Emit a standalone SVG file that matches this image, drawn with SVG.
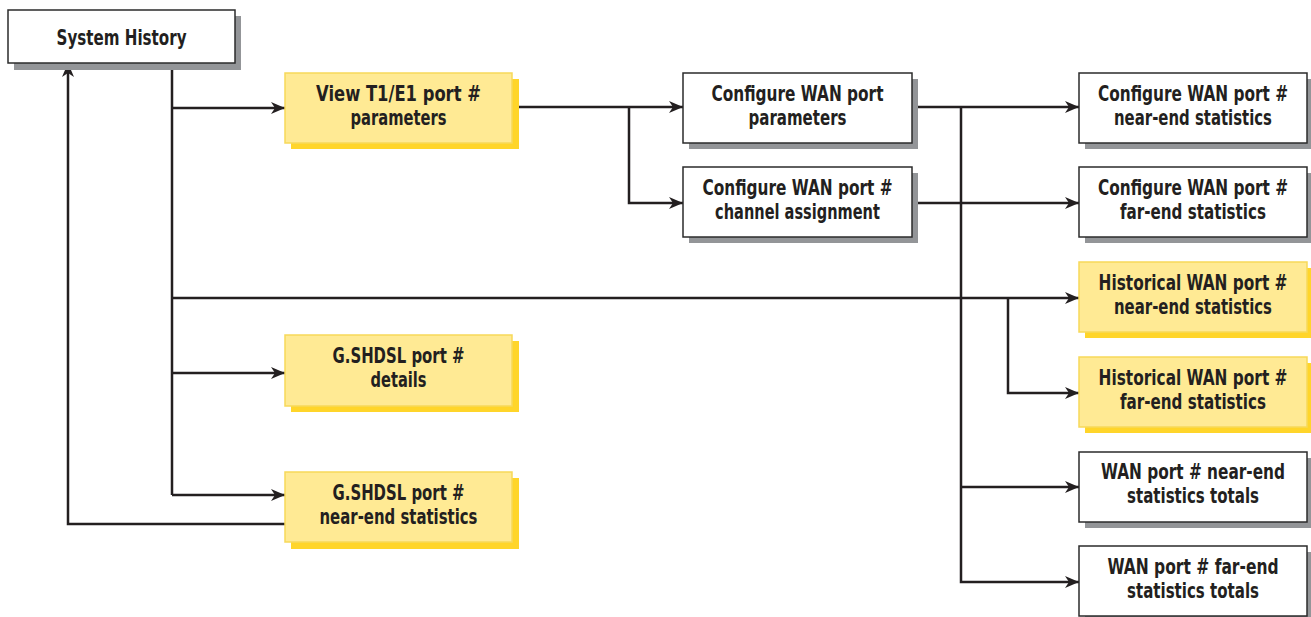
<svg xmlns="http://www.w3.org/2000/svg" width="1311" height="617" viewBox="0 0 1311 617">
<defs>
<marker id="ah" markerUnits="userSpaceOnUse" markerWidth="16" markerHeight="14" refX="15" refY="7" orient="auto" viewBox="0 0 16 14">
<path d="M15,7 L1,1 L5,7 L1,13 Z" fill="#231F20"/>
</marker>
<style>
.sh-g{fill:#939598}
.sh-y{fill:#FFD52A}
.bx-w{fill:#FFFFFF;stroke:#2B2B2B;stroke-width:1.5}
.bx-y{fill:#FFEA94;stroke:#F7D95A;stroke-width:1.5}
.t{font-family:"DejaVu Sans Condensed","DejaVu Sans",sans-serif;font-weight:bold;font-size:21.5px;fill:#231F20;text-anchor:middle}
.c{fill:none;stroke:#231F20;stroke-width:2.5}
.a{marker-end:url(#ah)}
</style>
</defs>
<rect width="1311" height="617" fill="#FFFFFF"/>

<g id="connectors">
<path class="c" d="M172,63 V495"/>
<path class="c a" d="M172,108 H285"/>
<path class="c a" d="M172,298 H1079"/>
<path class="c a" d="M172,373 H285"/>
<path class="c a" d="M172,495 H285"/>
<path class="c a" d="M285,524 H68 V63"/>
<path class="c a" d="M512,107 H683"/>
<path class="c a" d="M629,107 V203 H683"/>
<path class="c a" d="M912,107 H1079"/>
<path class="c a" d="M912,203 H1079"/>
<path class="c a" d="M961,107 V582 H1079"/>
<path class="c a" d="M961,487 H1079"/>
<path class="c a" d="M1008,298 V393 H1079"/>
</g>

<g id="system-history">
<rect class="sh-g" x="14" y="16" width="227" height="54"/>
<rect class="bx-w" x="8" y="10" width="227" height="53"/>
<text class="t" transform="translate(121.5,45) scale(0.8,1)" textLength="162.5" lengthAdjust="spacingAndGlyphs">System History</text>
</g>

<g id="view-t1e1">
<rect class="sh-y" x="291" y="79" width="228" height="70"/>
<rect class="bx-y" x="285" y="73" width="227" height="70"/>
<text class="t" transform="translate(398.5,101) scale(0.8,1)" textLength="206" lengthAdjust="spacingAndGlyphs">View T1/E1 port #</text>
<text class="t" transform="translate(398.5,125) scale(0.8,1)" textLength="120" lengthAdjust="spacingAndGlyphs">parameters</text>
</g>

<g id="gshdsl-details">
<rect class="sh-y" x="291" y="341" width="228" height="71"/>
<rect class="bx-y" x="285" y="335" width="227" height="71"/>
<text class="t" transform="translate(398.5,363) scale(0.8,1)" textLength="165" lengthAdjust="spacingAndGlyphs">G.SHDSL port #</text>
<text class="t" transform="translate(398.5,387) scale(0.8,1)" textLength="70" lengthAdjust="spacingAndGlyphs">details</text>
</g>

<g id="gshdsl-near-end">
<rect class="sh-y" x="291" y="478" width="228" height="71"/>
<rect class="bx-y" x="285" y="472" width="227" height="70"/>
<text class="t" transform="translate(398.5,500) scale(0.8,1)" textLength="165" lengthAdjust="spacingAndGlyphs">G.SHDSL port #</text>
<text class="t" transform="translate(398.5,524) scale(0.8,1)" textLength="197.5" lengthAdjust="spacingAndGlyphs">near-end statistics</text>
</g>

<g id="cfg-wan-params">
<rect class="sh-g" x="689" y="79" width="229" height="70"/>
<rect class="bx-w" x="683" y="73" width="229" height="70"/>
<text class="t" transform="translate(797.5,101) scale(0.8,1)" textLength="215" lengthAdjust="spacingAndGlyphs">Configure WAN port</text>
<text class="t" transform="translate(797.5,125) scale(0.8,1)" textLength="122.5" lengthAdjust="spacingAndGlyphs">parameters</text>
</g>

<g id="cfg-wan-channel">
<rect class="sh-g" x="689" y="173" width="229" height="70"/>
<rect class="bx-w" x="683" y="167" width="229" height="70"/>
<text class="t" transform="translate(797.5,195) scale(0.8,1)" textLength="237.5" lengthAdjust="spacingAndGlyphs">Configure WAN port #</text>
<text class="t" transform="translate(797.5,219) scale(0.8,1)" textLength="206" lengthAdjust="spacingAndGlyphs">channel assignment</text>
</g>

<g id="cfg-near-end">
<rect class="sh-g" x="1085" y="79" width="226" height="70"/>
<rect class="bx-w" x="1079" y="73" width="228" height="70"/>
<text class="t" transform="translate(1193,101) scale(0.8,1)" textLength="237.5" lengthAdjust="spacingAndGlyphs">Configure WAN port #</text>
<text class="t" transform="translate(1193,125) scale(0.8,1)" textLength="197.5" lengthAdjust="spacingAndGlyphs">near-end statistics</text>
</g>

<g id="cfg-far-end">
<rect class="sh-g" x="1085" y="173" width="226" height="70"/>
<rect class="bx-w" x="1079" y="167" width="228" height="70"/>
<text class="t" transform="translate(1193,195) scale(0.8,1)" textLength="237.5" lengthAdjust="spacingAndGlyphs">Configure WAN port #</text>
<text class="t" transform="translate(1193,219) scale(0.8,1)" textLength="182.5" lengthAdjust="spacingAndGlyphs">far-end statistics</text>
</g>

<g id="hist-near-end">
<rect class="sh-y" x="1085" y="268" width="226" height="70"/>
<rect class="bx-y" x="1079" y="262" width="228" height="70"/>
<text class="t" transform="translate(1193,290) scale(0.8,1)" textLength="236" lengthAdjust="spacingAndGlyphs">Historical WAN port #</text>
<text class="t" transform="translate(1193,314) scale(0.8,1)" textLength="197.5" lengthAdjust="spacingAndGlyphs">near-end statistics</text>
</g>

<g id="hist-far-end">
<rect class="sh-y" x="1085" y="363" width="226" height="70"/>
<rect class="bx-y" x="1079" y="357" width="228" height="70"/>
<text class="t" transform="translate(1193,385) scale(0.8,1)" textLength="236" lengthAdjust="spacingAndGlyphs">Historical WAN port #</text>
<text class="t" transform="translate(1193,409) scale(0.8,1)" textLength="182.5" lengthAdjust="spacingAndGlyphs">far-end statistics</text>
</g>

<g id="near-end-totals">
<rect class="sh-g" x="1085" y="458" width="226" height="70"/>
<rect class="bx-w" x="1079" y="452" width="228" height="70"/>
<text class="t" transform="translate(1193,479) scale(0.8,1)" textLength="230" lengthAdjust="spacingAndGlyphs">WAN port # near-end</text>
<text class="t" transform="translate(1193,503) scale(0.8,1)" textLength="165" lengthAdjust="spacingAndGlyphs">statistics totals</text>
</g>

<g id="far-end-totals">
<rect class="sh-g" x="1085" y="552" width="226" height="65"/>
<rect class="bx-w" x="1079" y="546" width="228" height="70"/>
<text class="t" transform="translate(1193,574) scale(0.8,1)" textLength="214" lengthAdjust="spacingAndGlyphs">WAN port # far-end</text>
<text class="t" transform="translate(1193,598) scale(0.8,1)" textLength="165" lengthAdjust="spacingAndGlyphs">statistics totals</text>
</g>
</svg>
